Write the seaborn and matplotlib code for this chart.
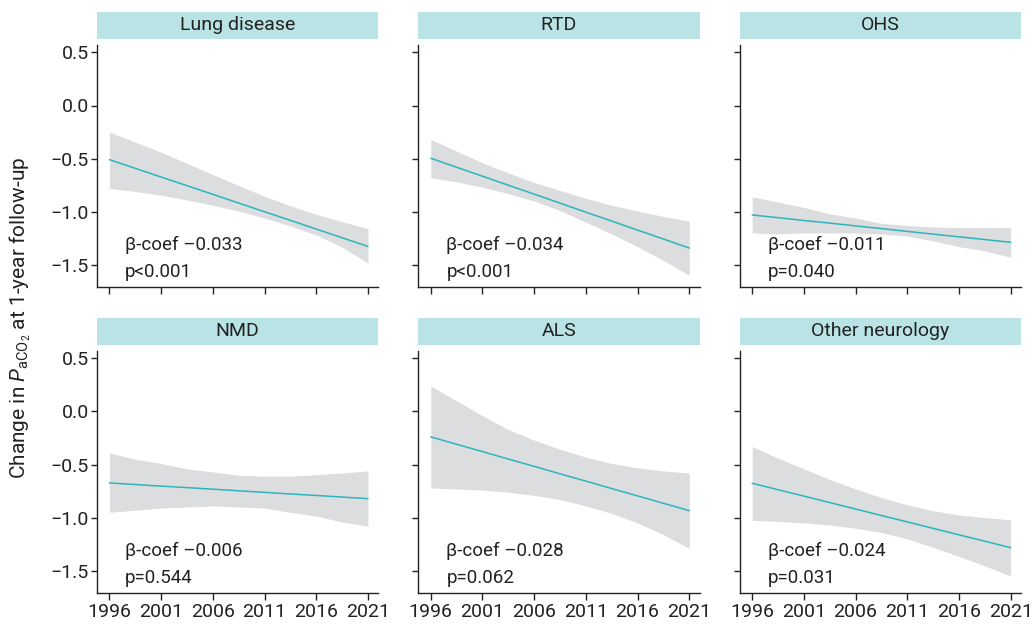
import numpy as np
import pandas as pd
import matplotlib
matplotlib.use("Agg")
import matplotlib.pyplot as plt
import seaborn as sns
from matplotlib.patches import Rectangle

# ---------------- data ----------------
groups = ["Lung disease", "RTD", "OHS", "NMD", "ALS", "Other neurology"]
years = [1996, 1998.5, 2001, 2003.5, 2006, 2008.5, 2011, 2013.5, 2016, 2018.5, 2021]

fit_lung = [-0.510, -0.592, -0.674, -0.755, -0.837, -0.919, -1.001, -1.082, -1.164, -1.246, -1.328]
upp_lung = [-0.25, -0.345, -0.44, -0.545, -0.65, -0.755, -0.855, -0.945, -1.025, -1.095, -1.16]
low_lung = [-0.78, -0.81, -0.845, -0.89, -0.94, -0.995, -1.06, -1.135, -1.22, -1.335, -1.485]

fit_rtd = [-0.497, -0.582, -0.666, -0.751, -0.835, -0.920, -1.005, -1.089, -1.174, -1.258, -1.343]
upp_rtd = [-0.32, -0.43, -0.54, -0.635, -0.725, -0.80, -0.875, -0.94, -0.995, -1.045, -1.09]
low_rtd = [-0.68, -0.72, -0.77, -0.83, -0.90, -0.99, -1.10, -1.21, -1.33, -1.46, -1.60]

fit_ohs = [-1.031, -1.057, -1.083, -1.108, -1.134, -1.160, -1.186, -1.212, -1.237, -1.263, -1.289]
upp_ohs = [-0.86, -0.91, -0.96, -1.02, -1.06, -1.11, -1.13, -1.145, -1.15, -1.15, -1.15]
low_ohs = [-1.20, -1.21, -1.20, -1.20, -1.20, -1.21, -1.23, -1.275, -1.33, -1.37, -1.43]

fit_nmd = [-0.673, -0.688, -0.703, -0.717, -0.732, -0.747, -0.762, -0.777, -0.791, -0.806, -0.821]
upp_nmd = [-0.39, -0.45, -0.49, -0.54, -0.57, -0.60, -0.61, -0.61, -0.595, -0.58, -0.56]
low_nmd = [-0.95, -0.93, -0.91, -0.90, -0.89, -0.90, -0.91, -0.95, -0.985, -1.04, -1.08]

fit_als = [-0.239, -0.309, -0.378, -0.448, -0.517, -0.587, -0.656, -0.726, -0.795, -0.865, -0.934]
upp_als = [0.24, 0.10, -0.04, -0.17, -0.27, -0.355, -0.43, -0.49, -0.53, -0.56, -0.58]
low_als = [-0.72, -0.73, -0.74, -0.76, -0.79, -0.83, -0.89, -0.96, -1.05, -1.16, -1.29]

fit_oth = [-0.676, -0.737, -0.797, -0.858, -0.919, -0.980, -1.040, -1.101, -1.162, -1.222, -1.283]
upp_oth = [-0.33, -0.44, -0.54, -0.64, -0.73, -0.81, -0.88, -0.935, -0.975, -1.00, -1.02]
low_oth = [-1.025, -1.035, -1.05, -1.07, -1.10, -1.14, -1.20, -1.28, -1.365, -1.455, -1.55]

beta_labels = ["β-coef \u20130.033", "β-coef \u20130.034", "β-coef \u20130.011",
               "β-coef \u20130.006", "β-coef \u20130.028", "β-coef \u20130.024"]
p_labels = ["p<0.001", "p<0.001", "p=0.040", "p=0.544", "p=0.062", "p=0.031"]

x_ticks = [1996, 2001, 2006, 2011, 2016, 2021]
y_ticks = [0.5, 0.0, -0.5, -1.0, -1.5]
y_ticklabels = ["0.5", "0.0", "\u22120.5", "\u22121.0", "\u22121.5"]

fits = [fit_lung, fit_rtd, fit_ohs, fit_nmd, fit_als, fit_oth]
upps = [upp_lung, upp_rtd, upp_ohs, upp_nmd, upp_als, upp_oth]
lows = [low_lung, low_rtd, low_ohs, low_nmd, low_als, low_oth]

rows = []
for g, f, u, l in zip(groups, fits, upps, lows):
    for yr, fv, uv, lv in zip(years, f, u, l):
        rows.append({"group": g, "year": yr, "fit": fv, "upper": uv, "lower": lv})
df = pd.DataFrame(rows)

# ---------------- style ----------------
sns.set_theme(style="ticks")
FONT = "Roboto"
plt.rcParams["font.family"] = [FONT, "DejaVu Sans"]
plt.rcParams["mathtext.fontset"] = "custom"
plt.rcParams["mathtext.rm"] = FONT
plt.rcParams["mathtext.it"] = FONT + ":italic"
plt.rcParams["axes.linewidth"] = 1.0
plt.rcParams["xtick.major.width"] = 1.0
plt.rcParams["ytick.major.width"] = 1.0
plt.rcParams["xtick.major.size"] = 5
plt.rcParams["ytick.major.size"] = 4
plt.rcParams["axes.edgecolor"] = "#222222"
plt.rcParams["xtick.color"] = "#222222"
plt.rcParams["ytick.color"] = "#222222"

TEAL = "#2cb5bd"
BAND = "#dcdddf"
STRIP = "#bae3e5"
TXT = "#222222"

g = sns.FacetGrid(df, col="group", col_wrap=3, col_order=groups,
                  sharex=True, sharey=True, height=2.4, aspect=1.15, despine=True)


def band(data, **kws):
    ax = plt.gca()
    ax.fill_between(data["year"], data["lower"], data["upper"],
                    color=BAND, linewidth=0, zorder=1)


g.map_dataframe(band)
g.map_dataframe(sns.lineplot, x="year", y="fit", color=TEAL, linewidth=1.1, zorder=2)

fig = g.figure
fig.set_size_inches(10.32, 6.25)
fig.set_dpi(100)
W, H = 1032, 625
fig.subplots_adjust(left=97 / W, right=1021 / W, top=1 - 45 / H, bottom=1 - 593 / H,
                    wspace=40 / 280.5, hspace=64 / 242)

for i, ax in enumerate(g.axes.flat):
    ax.set_xlim(1994.8, 2022.0)
    ax.set_ylim(-1.71, 0.57)
    ax.set_xticks(x_ticks)
    ax.set_yticks(y_ticks)
    ax.set_title("")
    ax.set_xlabel("")
    ax.set_ylabel("")
    if i % 3 == 0:
        ax.set_yticklabels(y_ticklabels, fontsize=14, color=TXT)
    else:
        ax.tick_params(axis="y", labelleft=False)
    if i >= 3:
        ax.set_xticklabels([str(t) for t in x_ticks], fontsize=14, color=TXT)
    else:
        ax.tick_params(axis="x", labelbottom=False)
    ax.tick_params(axis="both", pad=2)
    # strip header
    strip_h = 27 / 242
    gap = 6 / 242
    rect = Rectangle((0, 1 + gap), 1, strip_h, transform=ax.transAxes,
                     facecolor=STRIP, edgecolor="none", clip_on=False, zorder=3)
    ax.add_patch(rect)
    ax.text(0.5, 1 + gap + strip_h / 2, groups[i], transform=ax.transAxes,
            ha="center", va="center", fontsize=14, color=TXT, zorder=4)
    ax.text(0.10, 0.174, beta_labels[i], transform=ax.transAxes,
            ha="left", va="center", fontsize=13.5, color=TXT)
    ax.text(0.10, 0.062, p_labels[i], transform=ax.transAxes,
            ha="left", va="center", fontsize=13.5, color=TXT)

fig.text(20 / W, 1 - 318 / H, r"Change in $P_{\mathrm{aCO_2}}$ at 1-year follow-up",
         rotation=90, ha="center", va="center", fontsize=15, color=TXT)

fig.savefig("out.png", dpi=100)
